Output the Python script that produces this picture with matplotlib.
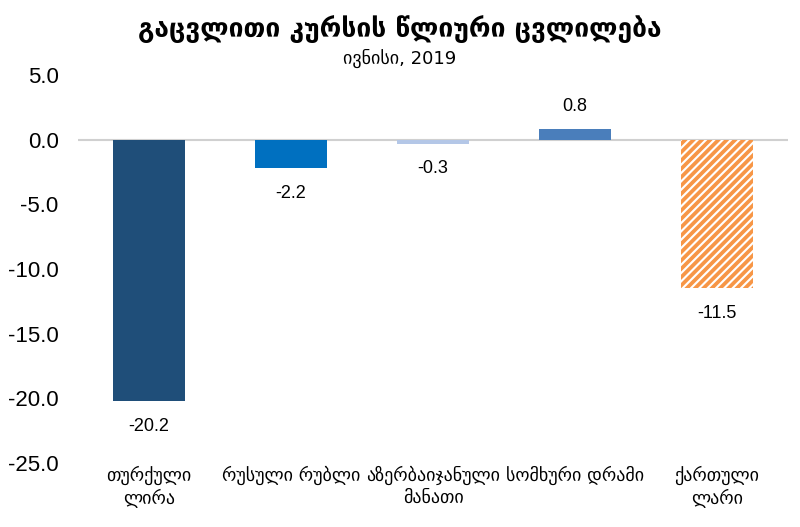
import matplotlib
matplotlib.use('Agg')
import matplotlib.pyplot as plt

categories = ['თურქული\nლირა', 'რუსული რუბლი', 'აზერბაიჯანული\nმანათი', 'სომხური დრამი', 'ქართული\nლარი']
values = [-20.2, -2.2, -0.3, 0.8, -11.5]
labels = ['-20.2', '-2.2', '-0.3', '0.8', '-11.5']
colors = ['#1F4E79', '#0070C0', '#B4C7E7', '#4A7EBB', 'white']
yticks = [5.0, 0.0, -5.0, -10.0, -15.0, -20.0, -25.0]

plt.rcParams['font.family'] = ['Liberation Sans', 'DejaVu Sans']
plt.rcParams['hatch.linewidth'] = 2.7

fig = plt.figure(figsize=(8, 5.27), dpi=100)
ax = fig.add_axes([0.0975, 0.1214, 0.8875, 0.7363])

x = list(range(len(values)))
bars = ax.bar(x, values, width=0.51, color=colors, linewidth=0)
# last bar is hatched orange
bars[-1].set_hatch('////')
bars[-1].set_edgecolor('#F79646')
bars[-1].set_linewidth(0)

ax.axhline(0, color='#D0D0D0', lw=1.5, zorder=0)

for xi, v, lab in zip(x, values, labels):
    if v >= 0:
        ax.text(xi, v + 1.1, lab, ha='center', va='bottom', fontsize=13)
    else:
        ax.text(xi, v - 1.3, lab, ha='center', va='top', fontsize=13)

ax.set_ylim(-25, 5)
ax.set_xlim(-0.5, 4.5)
ax.set_yticks(yticks)
ax.set_yticklabels(['%.1f' % t for t in yticks], fontsize=16)
ax.set_xticks(x)
ax.set_xticklabels(categories, fontsize=13, linespacing=1.25, family=['DejaVu Sans'])
ax.tick_params(length=0)
ax.tick_params(axis='x', pad=2)
ax.tick_params(axis='y', pad=14)
for s in ax.spines.values():
    s.set_visible(False)

fig.text(0.5, 0.945, 'გაცვლითი კურსის წლიური ცვლილება', ha='center', va='center',
         fontsize=19, fontweight='bold', family=['DejaVu Sans'])
fig.text(0.5, 0.89, 'ივნისი, 2019', ha='center', va='center', fontsize=13,
         family=['DejaVu Sans'])

fig.savefig('out.png', dpi=100)
